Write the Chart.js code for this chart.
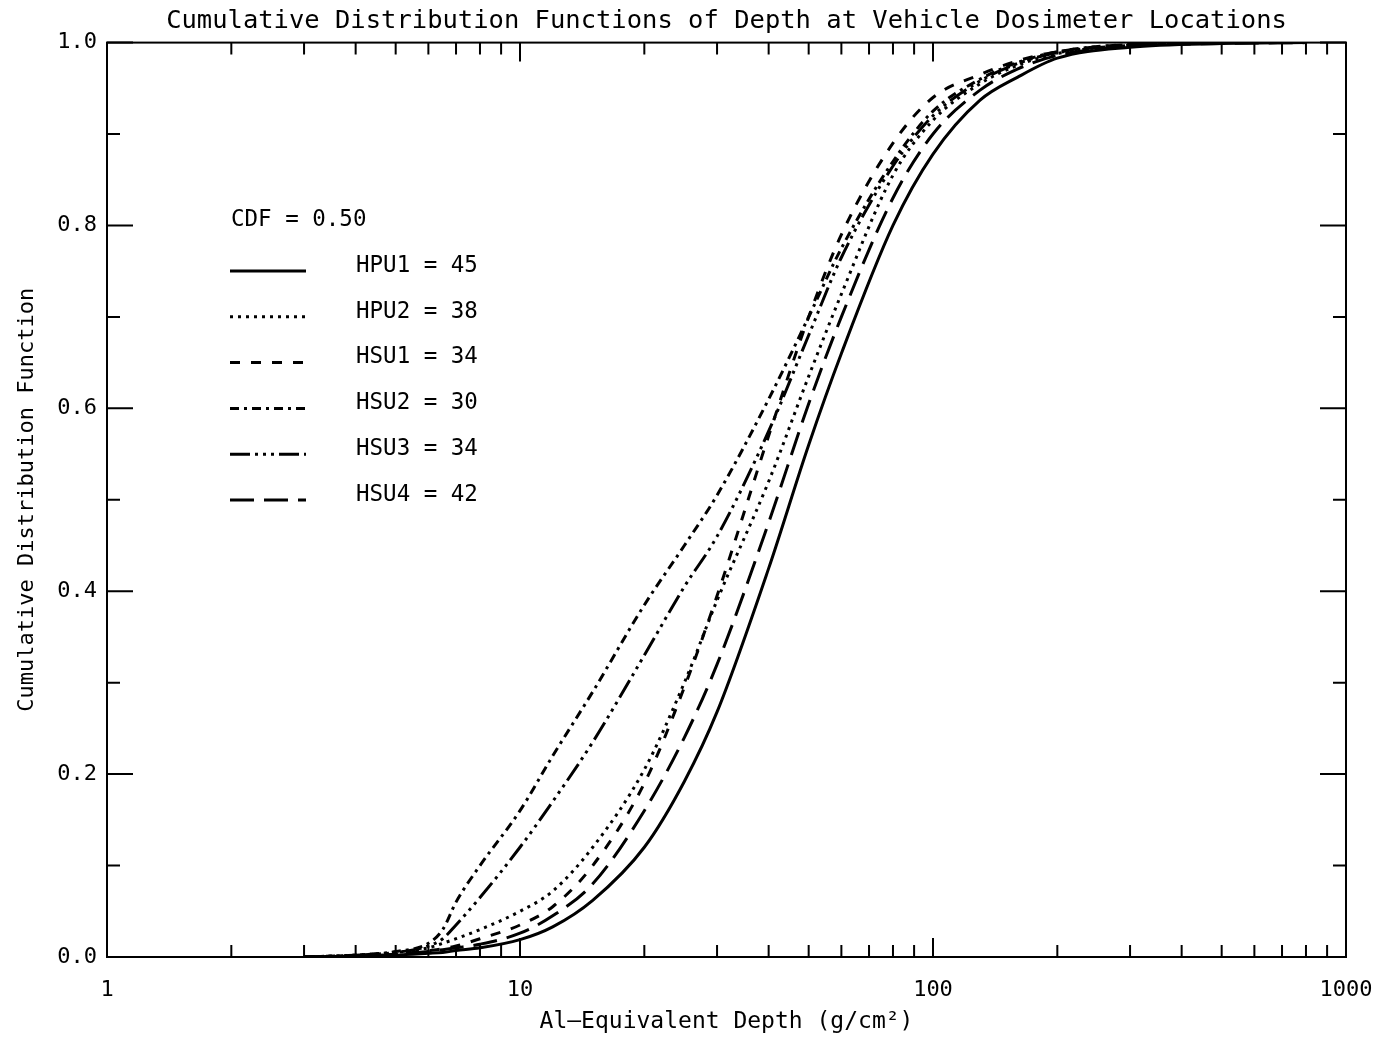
<!DOCTYPE html>
<html>
<head>
<meta charset="utf-8">
<script src="https://cdn.jsdelivr.net/npm/chart.js@4.4.1/dist/chart.umd.min.js"></script>
<style>
  html, body { margin: 0; padding: 0; background: #fff; }
</style>
</head>
<body>
<canvas id="cdfChart" width="1385" height="1037"></canvas>
<script>
// depth grid (g/cm^2) shared by every curve
const depths = [3, 4, 5, 6, 6.5, 7, 8, 10, 12, 15, 20, 25, 30, 40, 50, 60, 80, 100, 130, 160, 200, 300, 500, 800];

// cumulative fraction at each depth
const hpu1 = [0, 0.001, 0.002, 0.004, 0.005, 0.007, 0.010, 0.019, 0.033, 0.062, 0.120, 0.192, 0.268, 0.425, 0.560, 0.660, 0.800, 0.878, 0.937, 0.962, 0.983, 0.995, 0.999, 1.0];
const hpu2 = [0, 0.002, 0.005, 0.010, 0.015, 0.020, 0.030, 0.050, 0.072, 0.120, 0.205, 0.300, 0.390, 0.520, 0.635, 0.725, 0.855, 0.915, 0.955, 0.975, 0.988, 0.997, 1.0, 1.0];
const hsu1 = [0, 0.001, 0.003, 0.007, 0.009, 0.012, 0.020, 0.035, 0.055, 0.100, 0.190, 0.295, 0.395, 0.570, 0.700, 0.790, 0.890, 0.940, 0.965, 0.980, 0.990, 0.998, 1.0, 1.0];
const hsu2 = [0, 0.002, 0.006, 0.015, 0.030, 0.060, 0.100, 0.160, 0.220, 0.290, 0.385, 0.450, 0.505, 0.610, 0.700, 0.775, 0.870, 0.925, 0.960, 0.978, 0.990, 0.998, 1.0, 1.0];
const hsu3 = [0, 0.002, 0.005, 0.012, 0.020, 0.035, 0.065, 0.120, 0.170, 0.235, 0.330, 0.405, 0.460, 0.575, 0.680, 0.765, 0.865, 0.920, 0.958, 0.977, 0.989, 0.997, 1.0, 1.0];
const hsu4 = [0, 0.001, 0.003, 0.006, 0.008, 0.010, 0.014, 0.026, 0.045, 0.080, 0.160, 0.240, 0.320, 0.475, 0.605, 0.700, 0.830, 0.900, 0.948, 0.971, 0.986, 0.996, 0.999, 1.0];

const names = ['HPU1', 'HPU2', 'HSU1', 'HSU2', 'HSU3', 'HSU4'];
const medians = [45, 38, 34, 30, 34, 42];
const series = [hpu1, hpu2, hsu1, hsu2, hsu3, hsu4];
const cdfLevel = '0.50';

const xTickLabels = [1, 10, 100, 1000];
const yTickLabels = ['0.0', '0.2', '0.4', '0.6', '0.8', '1.0'];

// IDL-style line styles: solid, dotted, dashed, dash-dot, dash-dot-dot-dot, long dash
const dashes = [
  [],
  [3, 5],
  [10, 11],
  [9, 5, 3, 5],
  [20, 5, 3, 5, 3, 5, 3, 5],
  [24, 10]
];

const FONT = 'DejaVu Sans Mono';

const datasets = series.map((vals, i) => ({
  label: names[i],
  data: depths.map((d, j) => ({ x: d, y: vals[j] })),
  borderColor: '#000',
  borderWidth: 3,
  borderDash: dashes[i],
  pointRadius: 0,
  cubicInterpolationMode: 'monotone',
  fill: false
}));

// frame with inward ticks on all four sides
const frameTicks = {
  id: 'frameTicks',
  afterDatasetsDraw(chart) {
    const { ctx, chartArea: a, scales } = chart;
    const xs = scales.x, ys = scales.y;
    ctx.save();
    ctx.strokeStyle = '#000';
    ctx.lineWidth = 2;
    ctx.strokeRect(a.left, a.top, a.right - a.left, a.bottom - a.top);
    ctx.beginPath();
    for (let k = 0; k <= 10; k++) {
      const y = ys.getPixelForValue(k / 10);
      const len = k % 2 === 0 ? 26 : 13;
      ctx.moveTo(a.left, y); ctx.lineTo(a.left + len, y);
      ctx.moveTo(a.right, y); ctx.lineTo(a.right - len, y);
    }
    for (let dec = 1; dec < 1000; dec *= 10) {
      for (let m = 1; m < 10; m++) {
        const v = dec * m;
        if (v === 1) continue;
        const x = xs.getPixelForValue(v);
        const len = m === 1 ? 19 : 12;
        ctx.moveTo(x, a.bottom); ctx.lineTo(x, a.bottom - len);
        ctx.moveTo(x, a.top); ctx.lineTo(x, a.top + len);
      }
    }
    ctx.stroke();
    ctx.restore();
  }
};

// in-plot key listing the median depth of each location
const medianKey = {
  id: 'medianKey',
  afterDatasetsDraw(chart) {
    const { ctx } = chart;
    ctx.save();
    ctx.fillStyle = '#000';
    ctx.font = '22.5px "' + FONT + '"';
    ctx.textBaseline = 'middle';
    ctx.fillText('CDF = ' + cdfLevel, 231, 220);
    chart.data.datasets.forEach((ds, i) => {
      const y = 271 + i * 45.8;
      ctx.strokeStyle = '#000';
      ctx.lineWidth = 3;
      ctx.setLineDash(ds.borderDash);
      ctx.beginPath();
      ctx.moveTo(230, y);
      ctx.lineTo(306, y);
      ctx.stroke();
      ctx.setLineDash([]);
      ctx.fillText(names[i] + ' = ' + medians[i], 356, y - 5);
    });
    ctx.restore();
  }
};

new Chart(document.getElementById('cdfChart'), {
  type: 'line',
  data: { datasets },
  plugins: [frameTicks, medianKey],
  options: {
    responsive: false,
    animation: false,
    devicePixelRatio: 1,
    layout: { padding: { left: 0, right: 39, top: 0, bottom: 0 } },
    plugins: {
      legend: { display: false },
      tooltip: { enabled: false },
      title: {
        display: true,
        fullSize: false,
        text: 'Cumulative Distribution Functions of Depth at Vehicle Dosimeter Locations',
        color: '#000',
        font: { family: FONT, size: 25.5, weight: 'normal', lineHeight: 1.2 },
        padding: { top: 6, bottom: 6 }
      }
    },
    scales: {
      x: {
        type: 'logarithmic',
        min: 1,
        max: 1000,
        grid: { display: false },
        border: { display: false },
        ticks: {
          autoSkip: false,
          maxRotation: 0,
          color: '#000',
          padding: 12,
          font: { family: FONT, size: 22 },
          callback: v => xTickLabels.includes(v) ? String(v) : ''
        },
        title: {
          display: true,
          text: 'Al\u2013Equivalent Depth (g/cm\u00b2)',
          color: '#000',
          font: { family: FONT, size: 23 },
          padding: { top: 0, bottom: 1 }
        },
        afterFit: s => { s.height = 80; s.paddingLeft = 0; s.paddingRight = 0; }
      },
      y: {
        type: 'linear',
        min: 0,
        max: 1,
        grid: { display: false },
        border: { display: false },
        ticks: {
          stepSize: 0.2,
          color: '#000',
          padding: 2,
          font: { family: FONT, size: 22 },
          callback: (v, i) => yTickLabels[i]
        },
        title: {
          display: true,
          text: 'Cumulative Distribution Function',
          color: '#000',
          font: { family: FONT, size: 22 },
          padding: { top: 14, bottom: 0 }
        },
        afterFit: s => { s.width = 107; s.paddingTop = 0; s.paddingBottom = 0; }
      }
    }
  }
});
</script>
</body>
</html>
